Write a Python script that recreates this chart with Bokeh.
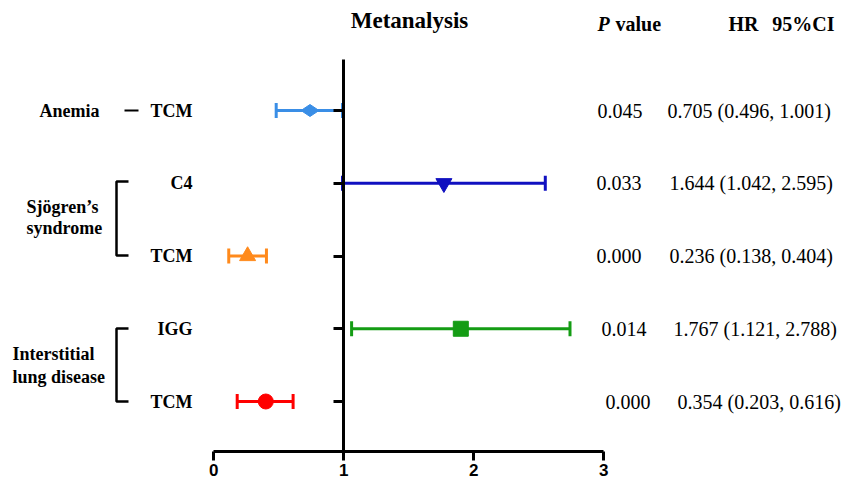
import math
from bokeh.plotting import figure
from bokeh.models import LinearAxis, FixedTicker, Range1d
from bokeh.core.properties import value
from bokeh.embed import file_html
from bokeh.resources import INLINE

# ---------------- data ----------------
rows = [5, 4, 3, 2, 1]
sub_labels = ["TCM", "C4", "TCM", "IGG", "TCM"]
hr_point = [0.74, 1.77, 0.26, 1.90, 0.40]
ci_low = [0.48, 0.99, 0.115, 1.06, 0.18]
ci_high = [0.99, 2.55, 0.405, 2.74, 0.61]
p_values = ["0.045", "0.033", "0.000", "0.014", "0.000"]
hr_ci_text = ["0.705 (0.496, 1.001)", "1.644 (1.042, 2.595)", "0.236 (0.138, 0.404)",
              "1.767 (1.121, 2.788)", "0.354 (0.203, 0.616)"]
x_ticks = [0, 1, 2, 3]

# ---------------- styles ----------------
colors = ["#3a8ee6", "#1010c0", "#ff8a1c", "#149c14", "#ff0000"]
markers = ["diamond", "inverted_triangle", "triangle", "square", "circle"]
marker_sizes = [18, 16, 16, 15, 15]
marker_angles = [math.pi / 2, 0, 0, 0, 0]
SERIF = value("Liberation Serif")

# pixel -> data helpers (layout only)
def X(px):
    return (px - 213.3) / 130.0

def Y(py):
    return 5 - (py - 110.0) / 72.75

W, H = 847, 484
p = figure(width=W, height=H, output_backend="svg", toolbar_location=None,
           x_range=Range1d(X(0), X(W)), y_range=Range1d(Y(H), Y(0)),
           x_axis_type=None, y_axis_type=None, min_border=0,
           outline_line_color=None, background_fill_color="white")

# x axis
xa = LinearAxis(fixed_location=Y(451), bounds=(0, 3), ticker=FixedTicker(ticks=x_ticks),
                axis_line_width=3, major_tick_line_width=3, major_tick_out=9, major_tick_in=0,
                minor_tick_out=0, minor_tick_in=0,
                major_label_text_font="Liberation Sans", major_label_text_font_style="bold",
                major_label_text_font_size="17px", major_label_text_color="black",
                major_label_standoff=3)
p.add_layout(xa, "below")

# y axis at x = 1
ya = LinearAxis(fixed_location=1, bounds=(Y(451), Y(59)), ticker=FixedTicker(ticks=rows),
                axis_line_width=3, major_tick_line_width=3, major_tick_out=10, major_tick_in=0,
                minor_tick_out=0, minor_tick_in=0,
                major_label_overrides={r: "" for r in rows})
p.add_layout(ya, "left")

# error bars
p.segment(x0=ci_low, y0=rows, x1=ci_high, y1=rows, line_color=colors, line_width=3)
p.scatter(x=ci_low + ci_high, y=rows + rows, marker="dash", angle=math.pi / 2, size=15,
          line_color=colors + colors, line_width=3)
p.scatter(x=hr_point, y=rows, marker=markers, size=marker_sizes, angle=marker_angles,
          fill_color=colors, line_color=colors, line_width=1)

# sub labels
p.text(x=[X(192)] * 5, y=rows, text=sub_labels, text_font=SERIF, text_font_style="bold",
       text_font_size="18px", text_align="right", text_baseline="middle", text_color="black")

# group labels
p.text(x=[X(99)], y=[Y(110)], text=["Anemia"], text_font=SERIF, text_font_style="bold",
       text_font_size="18px", text_align="right", text_baseline="middle", text_color="black")
p.text(x=[X(26), X(26)], y=[Y(206), Y(227)], text=["Sjögren’s", "syndrome"], text_font=SERIF,
       text_font_style="bold", text_font_size="18px", text_align="left", text_baseline="middle",
       text_color="black")
p.text(x=[X(12), X(12)], y=[Y(353), Y(376)], text=["Interstitial", "lung disease"], text_font=SERIF,
       text_font_style="bold", text_font_size="18px", text_align="left", text_baseline="middle",
       text_color="black")

# brackets and dash
p.segment(x0=[X(124)], y0=[Y(110)], x1=[X(138)], y1=[Y(110)], line_color="black", line_width=2)
p.multi_line(xs=[[X(128), X(116), X(116), X(128)], [X(128), X(116), X(116), X(128)]],
             ys=[[Y(181), Y(181), Y(255), Y(255)], [Y(328), Y(328), Y(401), Y(401)]],
             line_color="black", line_width=2.5)

# headers
p.text(x=[X(409)], y=[Y(20)], text=["Metanalysis"], text_font=SERIF, text_font_style="bold",
       text_font_size="23px", text_align="center", text_baseline="middle", text_color="black")
p.text(x=[X(597)], y=[Y(23)], text=["P"], text_font=SERIF, text_font_style="bold italic",
       text_font_size="20px", text_align="left", text_baseline="middle", text_color="black")
p.text(x=[X(615)], y=[Y(23)], text=["value"], text_font=SERIF, text_font_style="bold",
       text_font_size="20px", text_align="left", text_baseline="middle", text_color="black")
p.text(x=[X(728)], y=[Y(23)], text=["HR"], text_font=SERIF, text_font_style="bold",
       text_font_size="20px", text_align="left", text_baseline="middle", text_color="black")
p.text(x=[X(834)], y=[Y(23)], text=["95%CI"], text_font=SERIF, text_font_style="bold",
       text_font_size="20px", text_align="right", text_baseline="middle", text_color="black")

# right-hand text columns
p_x = [597, 596, 596, 601, 605]
hr_x = [667, 669, 669, 673, 677]
p.text(x=[X(v) for v in p_x], y=rows, text=p_values, text_font=SERIF, text_font_size="20px",
       text_align="left", text_baseline="middle", text_color="black")
p.text(x=[X(v) for v in hr_x], y=rows, text=hr_ci_text, text_font=SERIF, text_font_size="20px",
       text_align="left", text_baseline="middle", text_color="black")

open("out.html", "w").write(file_html(p, INLINE))
